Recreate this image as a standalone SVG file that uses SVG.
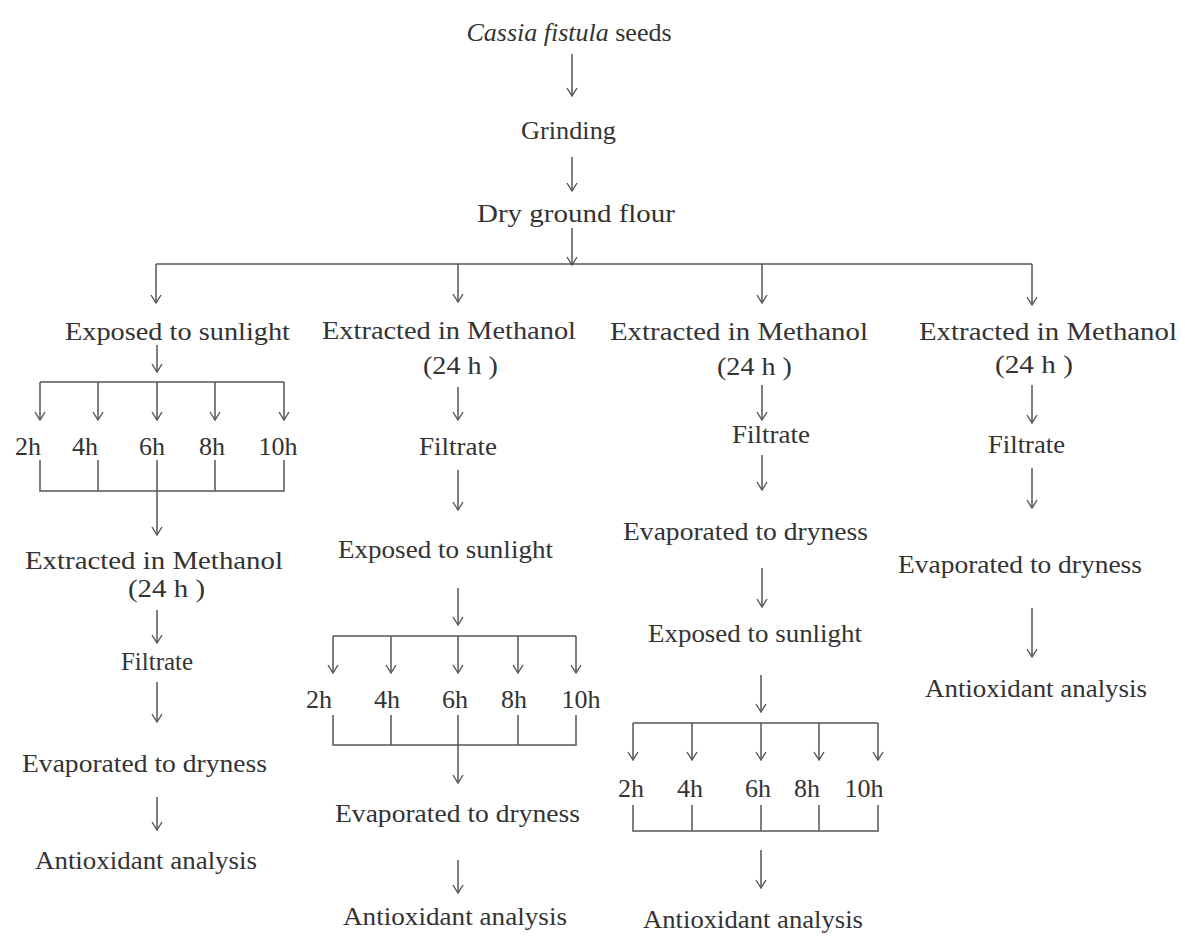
<svg xmlns="http://www.w3.org/2000/svg" width="1185" height="936" viewBox="0 0 1185 936">
<style>
text{font-family:"Liberation Serif","Times New Roman",serif;font-size:26px;fill:#333;}
.lbl{text-anchor:middle;}
.sm{font-size:25px;}
.ln{stroke:#555;stroke-width:1.5;fill:none;}
.ar{stroke:#555;stroke-width:1.5;fill:none;marker-end:url(#ah);}
</style>
<defs>
<marker id="ah" viewBox="0 0 10 12" refX="9" refY="6" markerWidth="10" markerHeight="12" markerUnits="userSpaceOnUse" orient="auto">
<path d="M1,1 L9,6 L1,11" fill="none" stroke="#555" stroke-width="1.4"/>
</marker>
</defs>
<rect width="1185" height="936" fill="#fff"/>

<g id="connectors">
<!-- top -->
<line class="ar" x1="572" y1="54" x2="572" y2="96"/>
<line class="ar" x1="572" y1="157" x2="572" y2="191"/>
<line class="ar" x1="572" y1="228" x2="572" y2="265"/>
<line class="ln" x1="156" y1="264" x2="1032" y2="264"/>
<line class="ar" x1="156" y1="264" x2="156" y2="303"/>
<line class="ar" x1="458" y1="264" x2="458" y2="302"/>
<line class="ar" x1="762" y1="264" x2="762" y2="303"/>
<line class="ar" x1="1032" y1="264" x2="1032" y2="305"/>

<!-- column 1 -->
<line class="ar" x1="157" y1="345" x2="157" y2="372"/>
<line class="ln" x1="40" y1="382" x2="284" y2="382"/>
<line class="ar" x1="40" y1="382" x2="40" y2="420"/>
<line class="ar" x1="98" y1="382" x2="98" y2="420"/>
<line class="ar" x1="157" y1="382" x2="157" y2="420"/>
<line class="ar" x1="215" y1="382" x2="215" y2="420"/>
<line class="ar" x1="284" y1="382" x2="284" y2="420"/>
<path class="ln" d="M40,460 V491 H284 V460 M98,460 V491 M157,460 V491 M215,460 V491"/>
<line class="ar" x1="157" y1="491" x2="157" y2="535"/>
<line class="ar" x1="157" y1="610" x2="157" y2="643"/>
<line class="ar" x1="157" y1="682" x2="157" y2="722"/>
<line class="ar" x1="157" y1="797" x2="157" y2="830"/>

<!-- column 2 -->
<line class="ar" x1="458" y1="387" x2="458" y2="420"/>
<line class="ar" x1="458" y1="470" x2="458" y2="510"/>
<line class="ar" x1="458" y1="588" x2="458" y2="625"/>
<line class="ln" x1="333" y1="636" x2="576" y2="636"/>
<line class="ar" x1="333" y1="636" x2="333" y2="673"/>
<line class="ar" x1="391" y1="636" x2="391" y2="673"/>
<line class="ar" x1="458" y1="636" x2="458" y2="673"/>
<line class="ar" x1="518" y1="636" x2="518" y2="673"/>
<line class="ar" x1="576" y1="636" x2="576" y2="673"/>
<path class="ln" d="M333,715 V745 H576 V715 M391,715 V745 M518,715 V745"/>
<line class="ar" x1="458" y1="715" x2="458" y2="783"/>
<line class="ar" x1="458" y1="860" x2="458" y2="893"/>

<!-- column 3 -->
<line class="ar" x1="762" y1="385" x2="762" y2="420"/>
<line class="ar" x1="762" y1="455" x2="762" y2="490"/>
<line class="ar" x1="762" y1="568" x2="762" y2="607"/>
<line class="ar" x1="761" y1="675" x2="761" y2="712"/>
<line class="ln" x1="633" y1="723" x2="878" y2="723"/>
<line class="ar" x1="633" y1="723" x2="633" y2="760"/>
<line class="ar" x1="692" y1="723" x2="692" y2="760"/>
<line class="ar" x1="761" y1="723" x2="761" y2="760"/>
<line class="ar" x1="819" y1="723" x2="819" y2="760"/>
<line class="ar" x1="878" y1="723" x2="878" y2="760"/>
<path class="ln" d="M633,805 V831 H878 V805 M692,805 V831 M761,805 V831 M819,805 V831"/>
<line class="ar" x1="761" y1="850" x2="761" y2="888"/>

<!-- column 4 -->
<line class="ar" x1="1032" y1="385" x2="1032" y2="423"/>
<line class="ar" x1="1032" y1="468" x2="1032" y2="508"/>
<line class="ar" x1="1032" y1="608" x2="1032" y2="657"/>
</g>

<g id="seeds"><text x="569" y="41" class="lbl"><tspan font-style="italic">Cassia fistula</tspan> seeds</text></g>
<g id="grinding"><text x="521" y="139" textLength="95" lengthAdjust="spacingAndGlyphs">Grinding</text></g>
<g id="flour"><text x="477" y="222" textLength="198" lengthAdjust="spacingAndGlyphs">Dry ground  flour</text></g>

<!-- column 1 -->
<g id="c1-exposed"><text x="65" y="340" textLength="225" lengthAdjust="spacingAndGlyphs">Exposed to sunlight</text></g>
<g id="c1-times">
<text class="lbl" x="28" y="455">2h</text>
<text class="lbl" x="85" y="455">4h</text>
<text class="lbl" x="152" y="455">6h</text>
<text class="lbl" x="212" y="455">8h</text>
<text class="lbl" x="278" y="455">10h</text>
</g>
<g id="c1-extracted"><text class="sm" x="25" y="569" textLength="258" lengthAdjust="spacingAndGlyphs">Extracted  in Methanol</text><text class="sm" x="128" y="597" textLength="77" lengthAdjust="spacingAndGlyphs">(24 h )</text></g>
<g id="c1-filtrate"><text x="121" y="670" textLength="72" lengthAdjust="spacingAndGlyphs">Filtrate</text></g>
<g id="c1-evap"><text x="22" y="772" textLength="245" lengthAdjust="spacingAndGlyphs">Evaporated to dryness</text></g>
<g id="c1-anti"><text x="35" y="869" textLength="222" lengthAdjust="spacingAndGlyphs">Antioxidant analysis</text></g>

<!-- column 2 -->
<g id="c2-extracted"><text x="322" y="339" textLength="254" lengthAdjust="spacingAndGlyphs">Extracted in Methanol</text><text x="423" y="374" textLength="75" lengthAdjust="spacingAndGlyphs">(24 h )</text></g>
<g id="c2-filtrate"><text x="419" y="455" textLength="78" lengthAdjust="spacingAndGlyphs">Filtrate</text></g>
<g id="c2-exposed"><text x="338" y="558" textLength="215" lengthAdjust="spacingAndGlyphs">Exposed to sunlight</text></g>
<g id="c2-times">
<text class="lbl" x="319" y="708">2h</text>
<text class="lbl" x="387" y="708">4h</text>
<text class="lbl" x="455" y="708">6h</text>
<text class="lbl" x="514" y="708">8h</text>
<text class="lbl" x="581" y="708">10h</text>
</g>
<g id="c2-evap"><text x="335" y="822" textLength="245" lengthAdjust="spacingAndGlyphs">Evaporated to dryness</text></g>
<g id="c2-anti"><text x="343" y="925" textLength="224" lengthAdjust="spacingAndGlyphs">Antioxidant analysis</text></g>

<!-- column 3 -->
<g id="c3-extracted"><text x="610" y="340" textLength="258" lengthAdjust="spacingAndGlyphs">Extracted  in Methanol</text><text x="717" y="375" textLength="75" lengthAdjust="spacingAndGlyphs">(24 h )</text></g>
<g id="c3-filtrate"><text x="732" y="443" textLength="78" lengthAdjust="spacingAndGlyphs">Filtrate</text></g>
<g id="c3-evap"><text x="623" y="540" textLength="245" lengthAdjust="spacingAndGlyphs">Evaporated to dryness</text></g>
<g id="c3-exposed"><text x="648" y="642" textLength="214" lengthAdjust="spacingAndGlyphs">Exposed to sunlight</text></g>
<g id="c3-times">
<text class="lbl" x="631" y="797">2h</text>
<text class="lbl" x="690" y="797">4h</text>
<text class="lbl" x="758" y="797">6h</text>
<text class="lbl" x="807" y="797">8h</text>
<text class="lbl" x="864" y="797">10h</text>
</g>
<g id="c3-anti"><text x="643" y="928" textLength="220" lengthAdjust="spacingAndGlyphs">Antioxidant analysis</text></g>

<!-- column 4 -->
<g id="c4-extracted"><text x="919" y="340" textLength="258" lengthAdjust="spacingAndGlyphs">Extracted  in Methanol</text><text x="995" y="373" textLength="78" lengthAdjust="spacingAndGlyphs">(24 h )</text></g>
<g id="c4-filtrate"><text x="988" y="453" textLength="77" lengthAdjust="spacingAndGlyphs">Filtrate</text></g>
<g id="c4-evap"><text x="898" y="573" textLength="244" lengthAdjust="spacingAndGlyphs">Evaporated to dryness</text></g>
<g id="c4-anti"><text x="925" y="697" textLength="222" lengthAdjust="spacingAndGlyphs">Antioxidant analysis</text></g>
</svg>
